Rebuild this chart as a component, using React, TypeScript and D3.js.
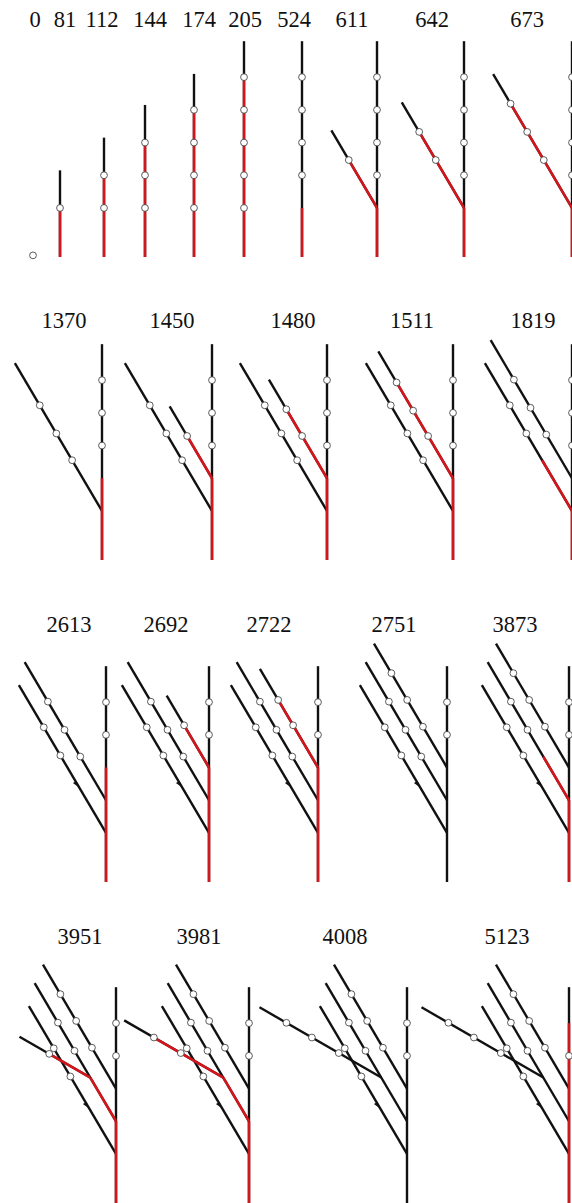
import React, { useEffect, useRef } from 'react';
import * as d3 from 'd3';

// [parent, attach distance on parent, angle from vertical (deg, negative = left), length, node positions, red span, mark]
type Axis = [number, number, number, number, number[], number[] | null, number?];

const BRANCH = -30.5;
const TWIG = -60;

// Row 1: main stem growth, then first branch
const ROW1_LABELS = ['0', '81', '112', '144', '174', '205', '524', '611', '642', '673'];
const STEM_OLD: Axis = [-1, 0, 0, 6.6, [2.5, 3.5, 4.5, 5.5], [0, 1.5]];
const ROW1: Axis[][] = [
  [[-1, 0, 0, 0, [0.05], null]],
  [[-1, 0, 0, 2.65, [1.5], [0, 1.5]]],
  [[-1, 0, 0, 3.65, [1.5, 2.5], [0, 2.5]]],
  [[-1, 0, 0, 4.65, [1.5, 2.5, 3.5], [0, 3.5]]],
  [[-1, 0, 0, 5.6, [1.5, 2.5, 3.5, 4.5], [0, 4.5]]],
  [[-1, 0, 0, 6.6, [1.5, 2.5, 3.5, 4.5, 5.5], [0, 5.5]]],
  [STEM_OLD],
  [STEM_OLD, [0, 1.5, BRANCH, 2.75, [1.7], [0, 1.7]]],
  [STEM_OLD, [0, 1.5, BRANCH, 3.75, [1.7, 2.7], [0, 2.7]]],
  [STEM_OLD, [0, 1.5, BRANCH, 4.75, [1.7, 2.7, 3.7], [0, 3.7]]],
];

// Row 2: second branch
const ROW2_LABELS = ['1370', '1450', '1480', '1511', '1819'];
const STEM2: Axis = [-1, 0, 0, 6.6, [3.5, 4.5, 5.5], [0, 2.5]];
const A2: Axis = [0, 1.5, BRANCH, 5.25, [1.8, 2.75, 3.75], null];
const ROW2: Axis[][] = [
  [STEM2, A2],
  [STEM2, A2, [0, 2.5, BRANCH, 2.55, [1.5], [0, 1.5]]],
  [STEM2, A2, [0, 2.5, BRANCH, 3.5, [1.5, 2.45], [0, 2.45]]],
  [STEM2, A2, [0, 2.5, BRANCH, 4.5, [1.5, 2.4, 3.4], [0, 3.4]]],
  [
    [-1, 0, 0, 6.6, [3.5, 4.5, 5.5], [0, 1.5]],
    [0, 1.5, BRANCH, 5.25, [2.75, 3.75], [0, 1.8]],
    [0, 2.5, BRANCH, 4.9, [1.55, 2.5, 3.5], null],
  ],
];

// Row 3: third branch
const ROW3_LABELS = ['2613', '2692', '2722', '2751', '3873'];
const STEM3: Axis = [-1, 0, 0, 6.6, [4.5, 5.5], [0, 3.5]];
const A3: Axis = [0, 1.5, BRANCH, 5.25, [2.75, 3.75], null, 1.75];
const B3: Axis = [0, 2.5, BRANCH, 4.9, [1.55, 2.5, 3.5], null];
const C3: Axis = [0, 3.5, BRANCH, 4.4, [1.45, 2.4, 3.35], null];
const ROW3: Axis[][] = [
  [STEM3, A3, B3],
  [STEM3, A3, B3, [0, 3.5, BRANCH, 2.55, [1.5], [0, 1.5]]],
  [STEM3, A3, B3, [0, 3.5, BRANCH, 3.5, [1.5, 2.4], [0, 2.4]]],
  [[-1, 0, 0, 6.6, [4.5, 5.5], null], A3, B3, C3],
  [[-1, 0, 0, 6.6, [4.5, 5.5], [0, 2.5]], A3, [0, 2.5, BRANCH, 4.9, [2.5, 3.5], [0, 1.55]], C3],
];

// Row 4: secondary twig on the second branch
const ROW4_LABELS = ['3951', '3981', '4008', '5123'];
const STEM4: Axis = [-1, 0, 0, 6.6, [4.5, 5.5], [0, 2.5]];
const B4R: Axis = [0, 2.5, BRANCH, 4.9, [2.5, 3.5], [0, 1.55]];
const B4: Axis = [0, 2.5, BRANCH, 4.9, [2.5, 3.5], null];
const D4: Axis = [2, 1.55, TWIG, 4.3, [1.5, 2.45, 3.35], null];
const ROW4: Axis[][] = [
  [STEM4, A3, B4R, C3, [2, 1.55, TWIG, 2.5, [1.45], [0, 1.45]]],
  [STEM4, A3, B4R, C3, [2, 1.55, TWIG, 3.5, [1.5, 2.45], [0, 2.45]]],
  [[-1, 0, 0, 6.6, [4.5, 5.5], null], A3, B4, C3, D4],
  [[-1, 0, 0, 6.6, [4.5], [0, 5.5]], A3, B4, C3, D4],
];

const ROWS = [ROW1, ROW2, ROW3, ROW4];
const LABELS = [ROW1_LABELS, ROW2_LABELS, ROW3_LABELS, ROW4_LABELS];

// layout (pixels)
const W = 572;
const H = 1203;
const U = 32.7;
const ROW_BASE = [257, 560, 882, 1203];
const ROW_LABEL_Y = [27, 328, 632, 944];
const STEM_X = [
  [33, 60, 104, 145, 194, 244, 302, 377, 464, 572],
  [102, 212, 327, 453, 572],
  [106, 209, 318, 447, 569],
  [116, 249, 407, 569],
];
const LABEL_X = [
  [35, 65, 102, 150, 199, 245, 294, 352, 432, 527],
  [64, 172, 293, 412, 533],
  [69, 166, 269, 394, 515],
  [80, 199, 345, 507],
];

const BLACK = '#111';
const RED = '#d3161c';

const App: React.FC = () => {
  const svgRef = useRef<SVGSVGElement>(null);

  useEffect(() => {
    document.body.style.margin = '0';
    if (!svgRef.current) return;
    const svg = d3.select(svgRef.current);
    svg.selectAll('*').remove();

    const line = d3.line<[number, number]>();

    ROWS.forEach((row, ri) => {
      row.forEach((axes, pi) => {
        const x = d3.scaleLinear().domain([0, 1]).range([STEM_X[ri][pi], STEM_X[ri][pi] + U]);
        const y = d3.scaleLinear().domain([0, 1]).range([ROW_BASE[ri], ROW_BASE[ri] - U]);
        const g = svg.append('g');

        // local geometry of every axis
        const geo: { x0: number; y0: number; dx: number; dy: number }[] = [];
        axes.forEach((a) => {
          let x0 = 0;
          let y0 = 0;
          if (a[0] >= 0) {
            const p = geo[a[0]];
            x0 = p.x0 + p.dx * a[1];
            y0 = p.y0 + p.dy * a[1];
          }
          const r = (a[2] * Math.PI) / 180;
          geo.push({ x0, y0, dx: Math.sin(r), dy: Math.cos(r) });
        });
        const at = (i: number, t: number): [number, number] => [
          x(geo[i].x0 + geo[i].dx * t),
          y(geo[i].y0 + geo[i].dy * t),
        ];

        // black axes
        axes.forEach((a, i) => {
          if (a[3] <= 0) return;
          g.append('path')
            .attr('d', line([at(i, 0), at(i, a[3])]))
            .attr('stroke', BLACK)
            .attr('stroke-width', 2.4)
            .attr('fill', 'none');
        });
        // red spans
        axes.forEach((a, i) => {
          const red = a[5];
          if (!red) return;
          g.append('path')
            .attr('d', line([at(i, red[0]), at(i, red[1])]))
            .attr('stroke', RED)
            .attr('stroke-width', 2.6)
            .attr('fill', 'none');
        });
        // small marks where an old bud was
        axes.forEach((a, i) => {
          const m = a[6];
          if (m === undefined) return;
          const tip = at(i, m - 0.14);
          const b = at(i, m + 0.08);
          const px = geo[i].dy;
          const py = geo[i].dx;
          const off = 3.2;
          g.append('path')
            .attr('d', `M${tip[0]},${tip[1]}L${b[0] - px * off},${b[1] - py * off}L${b[0] + px * off * 0.3},${b[1] + py * off * 0.3}Z`)
            .attr('fill', BLACK);
        });
        // nodes
        axes.forEach((a, i) => {
          a[4].forEach((t) => {
            const [cx, cy] = at(i, t);
            g.append('circle')
              .attr('cx', cx)
              .attr('cy', cy)
              .attr('r', 3.4)
              .attr('fill', '#fff')
              .attr('stroke', '#333')
              .attr('stroke-width', 0.8);
          });
        });
      });

      LABELS[ri].forEach((lab, pi) => {
        svg.append('text')
          .attr('x', LABEL_X[ri][pi])
          .attr('y', ROW_LABEL_Y[ri])
          .attr('text-anchor', 'middle')
          .style('font-family', "'Liberation Serif', 'Times New Roman', Times, serif")
          .style('font-size', '22.5px')
          .attr('fill', '#111')
          .text(lab);
      });
    });
  }, []);

  return (
    <div style={{ position: 'absolute', left: 0, top: 0, width: W, height: H, overflow: 'hidden', background: '#fff' }}>
      <svg ref={svgRef} width={W} height={H} style={{ display: 'block' }} />
    </div>
  );
};

export default App;
